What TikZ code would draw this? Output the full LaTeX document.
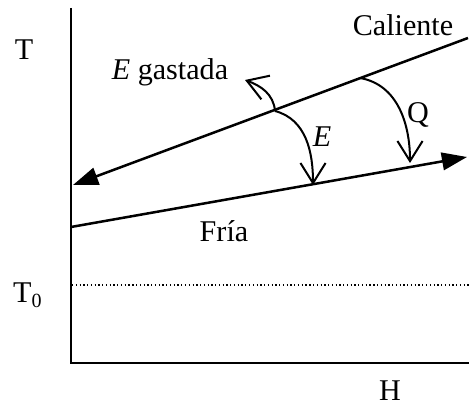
\documentclass[tikz,border=0pt]{standalone}
\usepackage{fontspec}
\setmainfont{Liberation Serif}
\usetikzlibrary{arrows.meta, positioning}

\begin{document}
\begin{tikzpicture}[scale=0.7,
    font=\fontsize{12}{14}\selectfont,
    corriente/.style={line width=1pt, -{Triangle[length=10pt, width=7pt]}},
    flujo/.style={line width=0.8pt, -{Straight Barb[length=8pt, width=10pt]}}]
    \useasboundingbox (0,0) rectangle (9.38,8.12);

    % Axes
    \coordinate (origen) at (1.42,0.86);
    \coordinate (ytop) at (1.42,7.96);
    \coordinate (xend) at (9.38,0.86);
    \draw[line width=1pt] (ytop) -- (origen) -- (xend);
    \node (T) at (0.48,7.12) {T};
    \node (H) at (7.8,0.3) {H};

    % Ambient temperature
    \coordinate (t0L) at (1.44,2.42);
    \coordinate (t0R) at (9.38,2.42);
    \draw[densely dotted, line width=0.5pt] (t0L) -- (t0R);
    \node (T0) at (0.56,2.22) {T\textsubscript{0}};

    % Hot and cold streams
    \coordinate (calR) at (9.36,7.36);
    \coordinate (calL) at (1.46,4.42);
    \draw[corriente] (calR) -- (calL);
    \node (caliente) at (8.06,7.62) {Caliente};

    \coordinate (friaL) at (1.42,3.58);
    \coordinate (friaR) at (9.34,4.98);
    \draw[corriente] (friaL) -- (friaR);
    \node (fria) at (4.48,3.5) {Fría};

    % Energy arrows
    \coordinate (pE) at (5.5,5.9);
    \coordinate (tE) at (6.26,4.42);
    \coordinate (tG) at (4.9,6.52);
    \coordinate (pQ) at (7.2,6.56);
    \coordinate (tQ) at (8.2,4.86);
    \draw[flujo] (pE) to[out=-15, in=90] (tE);
    \draw[flujo] (pE) to[out=95, in=-20] (tG);
    \draw[flujo] (pQ) to[out=-10, in=90] (tQ);
    \node (E) at (6.44,5.38) {\textit{E}};
    \node (gastada) at (3.4,6.68) {\textit{E} gastada};
    \node (Q) at (8.36,5.82) {Q};
\end{tikzpicture}
\end{document}
